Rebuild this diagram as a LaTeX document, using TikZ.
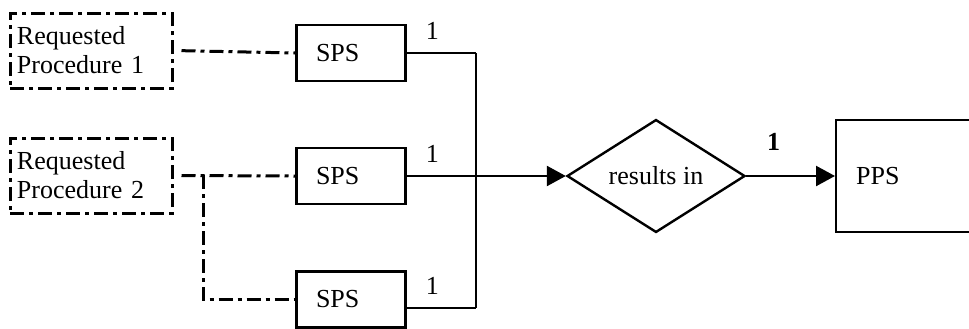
\documentclass[tikz,border=0pt]{standalone}
\usepackage{fontspec}
\setmainfont{Liberation Serif}
\usetikzlibrary{shapes.geometric,arrows.meta}
\begin{document}
\begin{tikzpicture}[x=0.5pt,y=-0.5pt,
	font=\fontsize{13pt}{14.5pt}\selectfont,
	proc/.style={draw,line width=1.5pt,dashdot,minimum width=81pt,minimum height=37.5pt,
		text width=74pt,align=left,inner xsep=3.5pt,inner ysep=0pt},
	dashdot/.style={dash pattern=on 7pt off 2.5pt on 2pt off 2.5pt},
	link/.style={line width=1.5pt,dashdot},
	sps/.style={draw,line width=1.2pt,minimum width=54.5pt,minimum height=28pt,
		text width=35pt,align=left,inner xsep=9.75pt,inner ysep=0pt},
	card/.style={above=6pt,inner sep=0pt},
	tip/.style={-{Triangle[length=9.5pt,width=10pt]}}]
		\useasboundingbox (0,0) rectangle (969,328);
		\clip (0,0) rectangle (969,328);
		% requested procedures
		\node[proc] (rp1) at (91,50.5) {Requested\\Procedure 1};
		\node[proc] (rp2) at (91,175.5) {Requested\\Procedure 2};
		% scheduled steps
		\node[sps] (sps1) at (351,53) {SPS};
		\node[sps] (sps2) at (351,176) {SPS};
		\node[sps] (sps3) at (351,299.5) {SPS};
		\node[draw,line width=1.2pt,diamond,minimum width=89pt,minimum height=56pt,inner sep=0pt] (res) at (656,176) {results in};
		\node[draw,line width=1.2pt,anchor=west,minimum width=75pt,minimum height=56pt,
			text width=55pt,align=left,inner xsep=10pt] (pps) at (835,176) {PPS};
		\coordinate (brk) at (203,175);
		\coordinate (bus1) at (476,53);
		\coordinate (bus2) at (476,176);
		\coordinate (bus3) at (476,308);
		% dash-dot links
		\draw[link,shorten <=4pt] (rp1.east) -- (sps1.west);
		\draw[link,shorten <=4pt] (rp2.east) -- (sps2.west);
		\draw[link] (brk) |- (sps3.west);
		% solid part
		\draw[line width=1.2pt] (sps1.east) -- node[card,pos=0.37] {1} (bus1);
		\draw[line width=1.2pt] (sps2.east) -- node[card,pos=0.37] {1} (bus2);
		\draw[line width=1.2pt] (sps3.east |- bus3) -- node[card,pos=0.37] {1} (bus3);
		\draw[line width=1.2pt] (bus1) -- (bus3);
		\draw[line width=1.2pt,tip] (bus2) -- (res.west);
		\draw[line width=1.2pt,tip] (res.east) -- node[above=12pt,inner sep=0pt,pos=0.31] {\textbf{1}} (pps.west);
\end{tikzpicture}
\end{document}
